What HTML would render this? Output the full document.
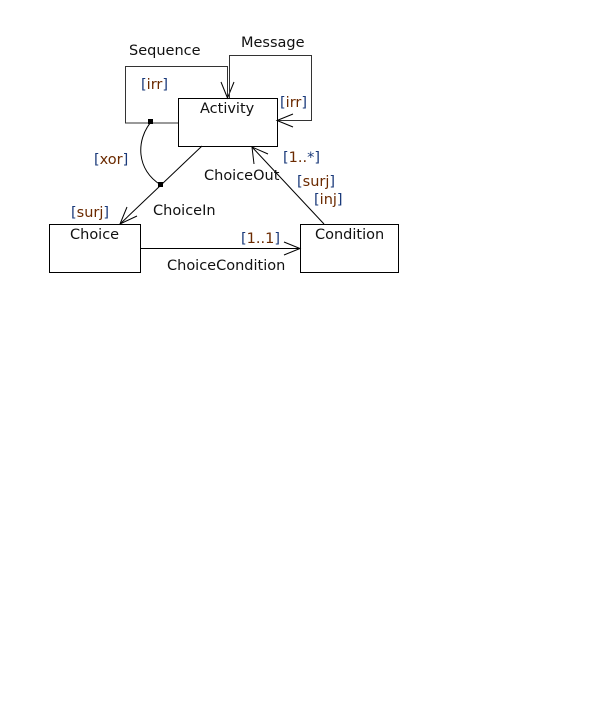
<!DOCTYPE html>
<html><head><meta charset="utf-8"><style>
html,body{margin:0;padding:0;background:#fff;width:601px;height:718px;overflow:hidden}
svg text{font-family:"DejaVu Sans","Liberation Sans",sans-serif;font-size:14.5px;fill:#111}
.b{fill:#1a3a7a}.c{fill:#6b2a00}
</style></head><body>
<svg width="601" height="718" xmlns="http://www.w3.org/2000/svg">
<g fill="none" stroke="#000" stroke-width="1">
<rect x="178.5" y="98.5" width="99" height="48"/>
<rect x="49.5" y="224.5" width="91" height="48"/>
<rect x="300.5" y="224.5" width="98" height="48"/>
<polyline points="178,123 125.5,123 125.5,66.5 227.5,66.5 227.5,98" stroke="#333"/>
<polyline points="221,82 227.5,98 234,82"/>
<polyline points="229.5,98 229.5,55.5 311.5,55.5 311.5,120.5 277,120.5" stroke="#333"/>
<polyline points="293,114 277,120.5 293,127"/>
<line x1="202" y1="146" x2="120" y2="224"/>
<polyline points="127,207 120,224 137,216"/>
<line x1="324" y1="224" x2="252" y2="147"/>
<polyline points="254,164 252,147 268,154"/>
<line x1="140" y1="248.5" x2="300" y2="248.5"/>
<polyline points="284,242 300,248.5 284,255"/>
<path d="M151,122 C136,140 136,170 161,185"/>
</g>
<rect x="148" y="119" width="5" height="5" fill="#000"/>
<rect x="158" y="182" width="5" height="5" fill="#000"/>
<text x="200" y="113">Activity</text>
<text x="70" y="239">Choice</text>
<text x="315" y="239">Condition</text>
<text x="129" y="55">Sequence</text>
<text x="241" y="47">Message</text>
<text x="141" y="89"><tspan class="b">[</tspan><tspan class="c">irr</tspan><tspan class="b">]</tspan></text>
<text x="280" y="107"><tspan class="b">[</tspan><tspan class="c">irr</tspan><tspan class="b">]</tspan></text>
<text x="94" y="164"><tspan class="b">[</tspan><tspan class="c">xor</tspan><tspan class="b">]</tspan></text>
<text x="71" y="217"><tspan class="b">[</tspan><tspan class="c">surj</tspan><tspan class="b">]</tspan></text>
<text x="153" y="215">ChoiceIn</text>
<text x="204" y="180">ChoiceOut</text>
<text x="283" y="162"><tspan class="b">[</tspan><tspan class="c">1..</tspan><tspan class="b">*]</tspan></text>
<text x="297" y="186"><tspan class="b">[</tspan><tspan class="c">surj</tspan><tspan class="b">]</tspan></text>
<text x="314" y="204"><tspan class="b">[</tspan><tspan class="c">inj</tspan><tspan class="b">]</tspan></text>
<text x="241" y="243"><tspan class="b">[</tspan><tspan class="c">1..1</tspan><tspan class="b">]</tspan></text>
<text x="167" y="270">ChoiceCondition</text>
</svg>
</body></html>
